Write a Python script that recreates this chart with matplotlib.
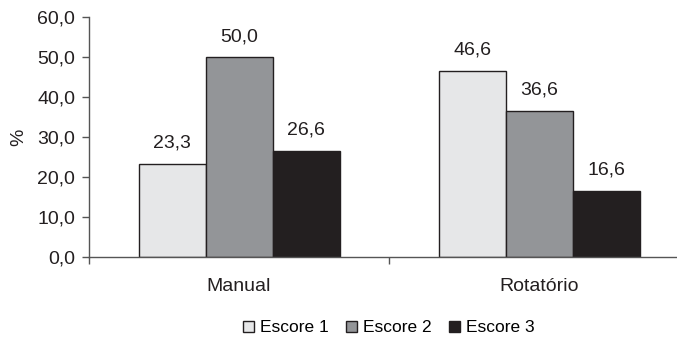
import numpy as np
import matplotlib.pyplot as plt
from matplotlib.ticker import FuncFormatter

plt.rcParams['font.family'] = ['Liberation Sans', 'DejaVu Sans']

categories = ['Manual', 'Rotatório']
series = ['Escore 1', 'Escore 2', 'Escore 3']
escore1 = [23.3, 46.6]
escore2 = [50.0, 36.6]
escore3 = [26.6, 16.6]
colors = ['#e6e7e8', '#939598', '#231f20']

fig = plt.figure(figsize=(6.77, 3.41), dpi=100)
ax = fig.add_axes([89 / 677, 1 - 257 / 341, 600 / 677, 240 / 341])

fs = 14
x = np.arange(len(categories))
width = 67 / 300
for i, (vals, name, c) in enumerate(zip([escore1, escore2, escore3], series, colors)):
    pos = x + (i - 1) * width
    ax.bar(pos, vals, width, color=c, edgecolor='#231f20', linewidth=1.0, label=name)
    for p, v in zip(pos, vals):
        ax.text(p, v + 3.0, f'{v:.1f}'.replace('.', ','), ha='center', va='bottom',
                fontsize=fs, color='#231f20')

ax.set_xlim(-0.5, 1.5)
ax.set_ylim(0, 60)
ax.set_yticks(np.arange(0, 61, 10))
ax.yaxis.set_major_formatter(FuncFormatter(lambda v, _: f'{v:.1f}'.replace('.', ',')))
ax.set_xticks(x)
ax.set_xticklabels(categories, fontsize=fs, color='#231f20')
ax.set_xticks([-0.5, 0.5, 1.5], minor=True)
ax.tick_params(axis='x', which='major', length=0, pad=15)
ax.tick_params(axis='x', which='minor', length=5, width=1, color='#555555')
ax.tick_params(axis='y', length=5, width=1, color='#555555', labelsize=fs,
               labelcolor='#231f20', pad=5)
ax.set_ylabel('%', fontsize=fs, color='#231f20', labelpad=7)

for side in ['top', 'right']:
    ax.spines[side].set_visible(False)
for side in ['left', 'bottom']:
    ax.spines[side].set_color('#555555')
    ax.spines[side].set_linewidth(1)

fig.legend(loc='center', bbox_to_anchor=(389 / 677, 1 - 328 / 341), ncol=3,
           frameon=False, fontsize=12.5, handlelength=0.62, handleheight=0.62,
           handletextpad=0.35, columnspacing=1.0)

fig.savefig('out.png', dpi=100)
